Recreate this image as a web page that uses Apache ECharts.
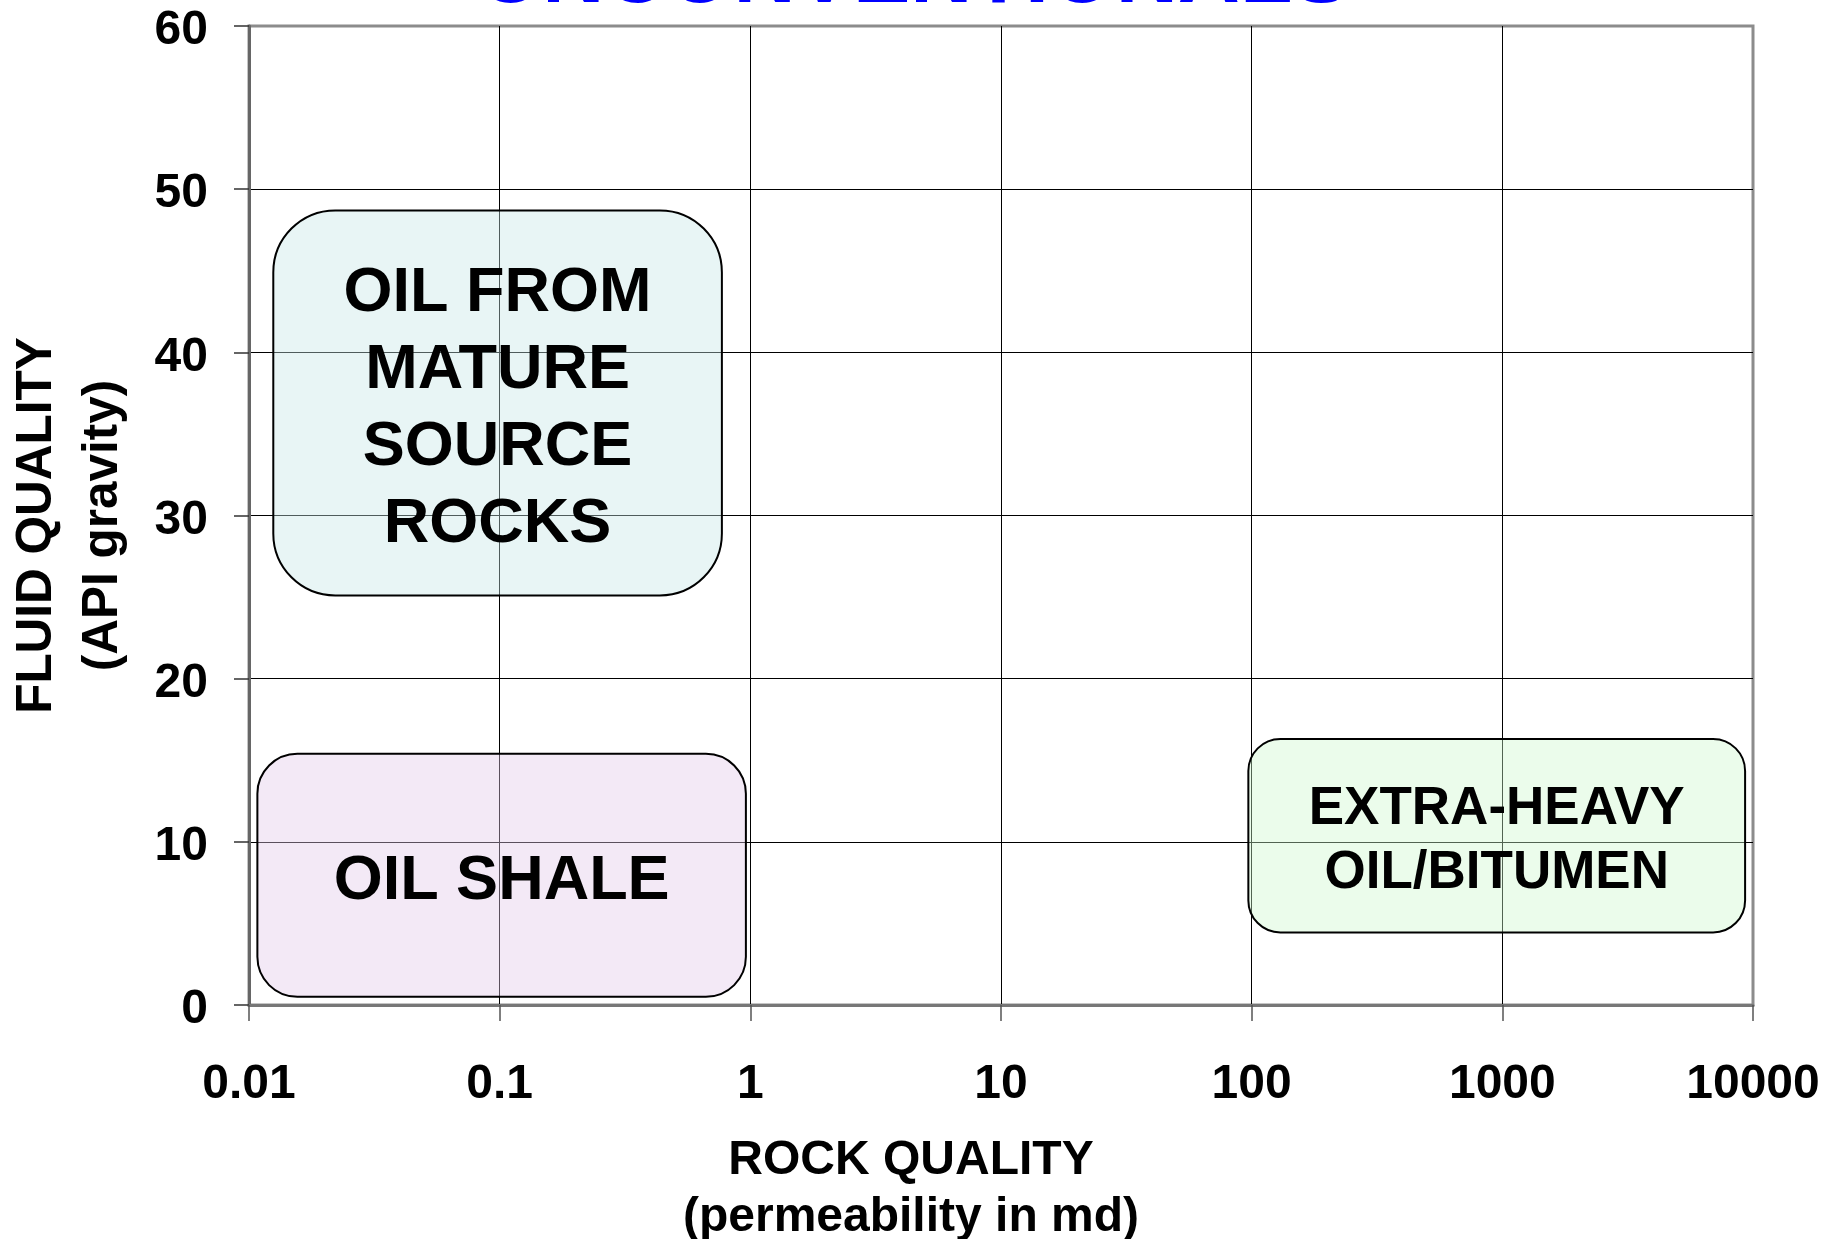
<!DOCTYPE html>
<html>
<head>
<meta charset="utf-8">
<script src="https://cdn.jsdelivr.net/npm/echarts@6/dist/echarts.min.js"></script>
<style>
  html, body { margin: 0; padding: 0; background: #fff; overflow: hidden; }
  #chart { width: 1841px; height: 1239px; }
</style>
</head>
<body>
<div id="chart"></div>
<script>
// ---- data ----
const chartTitle = 'UNCONVENTIONALS';
const xAxisTitle = 'ROCK QUALITY\n(permeability in md)';
const yAxisTitle = 'FLUID QUALITY\n(API gravity)';
const xTickLabels = ['0.01', '0.1', '1', '10', '100', '1000', '10000'];
const yTickLabels = ['0', '10', '20', '30', '40', '50', '60'];

const regionNames = ['OIL FROM\nMATURE\nSOURCE\nROCKS', 'OIL SHALE', 'EXTRA-HEAVY\nOIL/BITUMEN'];
const permMin = [0.0125, 0.0108, 97];     // md
const permMax = [0.77, 0.96, 9300];       // md
const apiMin  = [25.1, 0.5, 4.45];        // API gravity
const apiMax  = [48.7, 15.4, 16.3];       // API gravity

// ---- styles (not data) ----
const FONT = '"Liberation Sans", Arial, Helvetica, sans-serif';
const regionStyles = [
  { fill: 'rgba(198,230,230,0.4)', r: 62, fontSize: 63, lineHeight: 77 },
  { fill: 'rgba(225,200,232,0.4)', r: 40, fontSize: 63, lineHeight: 77 },
  { fill: 'rgba(205,247,205,0.4)', r: 32, fontSize: 53, lineHeight: 64 }
];
const TEXT_DY = 6;

const seriesData = regionNames.map((n, i) => [permMin[i], permMax[i], apiMin[i], apiMax[i], n]);

const chart = echarts.init(document.getElementById('chart'), null, { renderer: 'canvas' });

const option = {
  backgroundColor: '#ffffff',
  animation: false,
  graphic: [{
    type: 'text',
    x: 915,
    y: -22,
    z: 10,
    style: {
      text: chartTitle,
      fill: '#0000ff',
      fontFamily: FONT,
      fontWeight: 'bold',
      fontSize: 86,
      align: 'center',
      verticalAlign: 'middle'
    }
  }],
  grid: {
    left: 249, right: 88, top: 26, bottom: 234,
    outerBoundsMode: 'none',
    containLabel: false,
    show: true,
    borderColor: '#8c8c8c',
    borderWidth: 3,
    backgroundColor: 'transparent'
  },
  xAxis: {
    type: 'log',
    logBase: 10,
    min: 0.01,
    max: 10000,
    splitNumber: 6,
    name: xAxisTitle,
    nameLocation: 'middle',
    nameGap: 127,
    nameTextStyle: {
      fontFamily: FONT, fontWeight: 'bold', fontSize: 48, color: '#000',
      lineHeight: 57, padding: [0, 180, 0, 0]
    },
    axisLine: { show: true, lineStyle: { color: '#777', width: 3 } },
    axisTick: { show: true, length: 16, lineStyle: { color: '#555', width: 1.5 } },
    minorTick: { show: false },
    axisLabel: {
      margin: 56,
      fontFamily: FONT, fontWeight: 'bold', fontSize: 48, color: '#000',
      formatter: function (v) {
        const idx = Math.round(Math.log10(v)) + 2;
        return xTickLabels[idx] !== undefined ? xTickLabels[idx] : '';
      }
    },
    splitLine: { show: true, showMinLine: false, showMaxLine: false, lineStyle: { color: '#000', width: 1 } }
  },
  yAxis: {
    type: 'value',
    min: 0,
    max: 60,
    interval: 10,
    name: yAxisTitle,
    nameLocation: 'middle',
    nameRotate: 90,
    nameGap: 113,
    nameTextStyle: {
      fontFamily: FONT, fontWeight: 'bold', fontSize: 49.5, color: '#000',
      lineHeight: 66, padding: [0, 20, 0, 0]
    },
    axisLine: { show: true, lineStyle: { color: '#666', width: 3 } },
    axisTick: { show: true, length: 15, lineStyle: { color: '#333', width: 1.5 } },
    axisLabel: {
      margin: 41,
      fontFamily: FONT, fontWeight: 'bold', fontSize: 48, color: '#000',
      formatter: function (v) {
        const idx = Math.round(v / 10);
        return yTickLabels[idx] !== undefined ? '{t|' + yTickLabels[idx] + '}' : '';
      },
      rich: {
        t: {
          fontFamily: FONT, fontWeight: 'bold', fontSize: 48, color: '#000',
          padding: [10, 0, 0, 0]
        }
      }
    },
    splitLine: { show: true, showMinLine: false, showMaxLine: false, lineStyle: { color: '#000', width: 1 } }
  },
  series: [{
    type: 'custom',
    coordinateSystem: 'cartesian2d',
    encode: { x: [0, 1], y: [2, 3] },
    data: seriesData,
    z: 5,
    renderItem: function (params, api) {
      const i = params.dataIndex;
      const st = regionStyles[i];
      const p0 = api.coord([api.value(0), api.value(3)]);
      const p1 = api.coord([api.value(1), api.value(2)]);
      const x = p0[0], y = p0[1], w = p1[0] - p0[0], h = p1[1] - p0[1];
      return {
        type: 'group',
        children: [{
          type: 'rect',
          shape: { x: x, y: y, width: w, height: h, r: st.r },
          style: { fill: st.fill, stroke: '#000', lineWidth: 2 }
        }, {
          type: 'text',
          style: {
            text: regionNames[i],
            x: x + w / 2,
            y: y + h / 2 + TEXT_DY,
            align: 'center',
            verticalAlign: 'middle',
            fontFamily: FONT,
            fontWeight: 'bold',
            fontSize: st.fontSize,
            lineHeight: st.lineHeight,
            fill: '#000'
          }
        }]
      };
    }
  }]
};

chart.setOption(option);
</script>
</body>
</html>
